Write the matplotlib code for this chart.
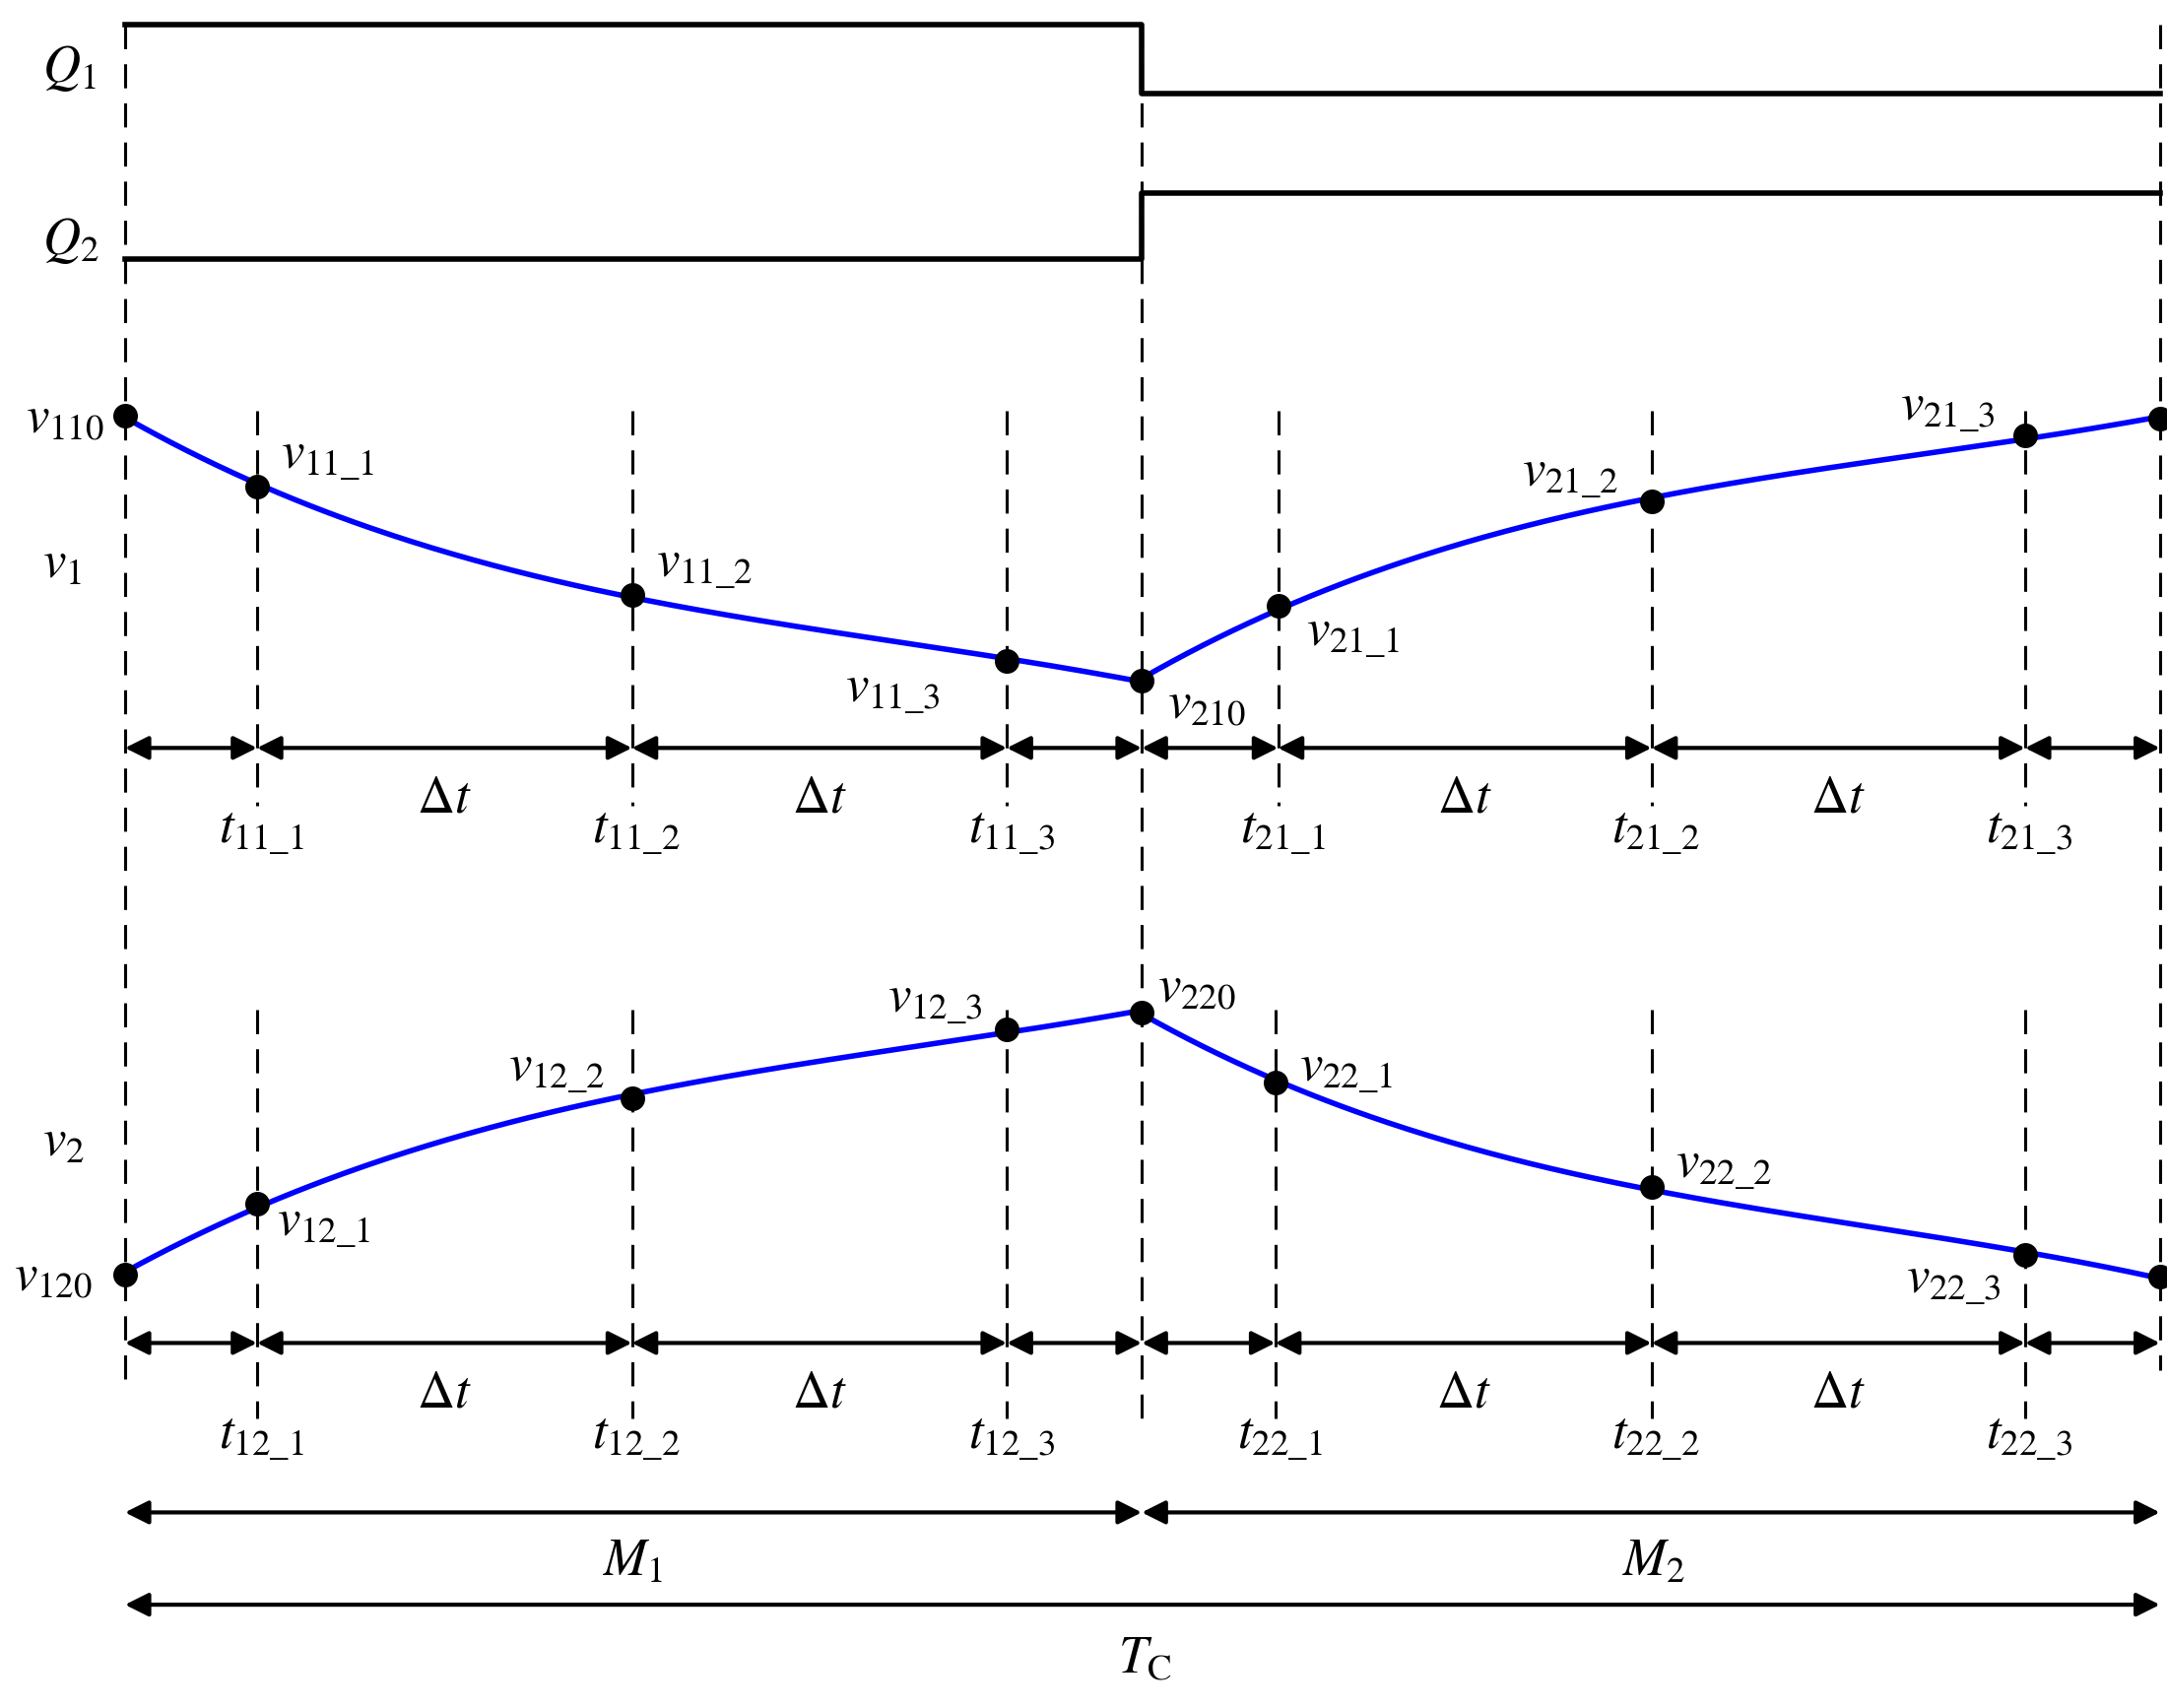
import numpy as np
import matplotlib.pyplot as plt

plt.rcParams['mathtext.fontset'] = 'stix'
plt.rcParams['font.family'] = 'Liberation Serif'

# sample instants (pixel-space of the schematic) and node values
t_top = [88, 181, 445, 709, 804, 900, 1163, 1426, 1521]
v1 = [302, 353, 432, 480, 494, 440, 364, 316, 304]
t_bot = [88, 181, 445, 709, 804, 898, 1163, 1426, 1521]
v2 = [925, 874, 797, 747, 735, 786, 862, 911, 927]

v1_labels = [r'$v_{110}$', r'$v_{11\_1}$', r'$v_{11\_2}$', r'$v_{11\_3}$', r'$v_{210}$',
             r'$v_{21\_1}$', r'$v_{21\_2}$', r'$v_{21\_3}$', None]
v1_pos = [(18, 305), (198, 333), (462, 412), (595, 503), (822, 512),
          (920, 462), (1072, 346), (1338, 298), None]
v2_labels = [r'$v_{120}$', r'$v_{12\_1}$', r'$v_{12\_2}$', r'$v_{12\_3}$', r'$v_{220}$',
             r'$v_{22\_1}$', r'$v_{22\_2}$', r'$v_{22\_3}$', None]
v2_pos = [(10, 928), (195, 890), (358, 778), (625, 728), (815, 718),
          (915, 778), (1180, 848), (1342, 932), None]
t1_labels = [r'$t_{11\_1}$', r'$t_{11\_2}$', r'$t_{11\_3}$', r'$t_{21\_1}$', r'$t_{21\_2}$', r'$t_{21\_3}$']
t2_labels = [r'$t_{12\_1}$', r'$t_{12\_2}$', r'$t_{12\_3}$', r'$t_{22\_1}$', r'$t_{22\_2}$', r'$t_{22\_3}$']

fig = plt.figure(figsize=(22, 17.34), dpi=100)
ax = fig.add_axes([0, 0, 1, 1])
ax.set_xlim(0, 1526)
ax.set_ylim(1240, 0)
ax.axis('off')

K = 'black'
LW = 4
FS = 38

# gate signals
ax.plot([88, 804, 804, 1521], [18, 18, 68, 68], color=K, lw=LW)
ax.plot([88, 804, 804, 1521], [188, 188, 140, 140], color=K, lw=LW)
ax.text(30, 50, r'$Q_{\mathit{1}}$', fontsize=FS, va='center')
ax.text(30, 175, r'$Q_{\mathit{2}}$', fontsize=FS, va='center')

dash = dict(color=K, lw=2.2, dashes=(8, 5))
ax.plot([88, 88], [18, 1010], **dash)
ax.plot([804, 804], [18, 1030], **dash)
ax.plot([1521, 1521], [18, 995], **dash)
for x in t_top[1:4] + t_top[5:8]:
    ax.plot([x, x], [298, 585], **dash)
for x in t_bot[1:4] + t_bot[5:8]:
    ax.plot([x, x], [733, 1030], **dash)


def curve(ts, vs):
    for seg in (slice(0, 5), slice(4, 9)):
        tt, vv = np.array(ts[seg]), np.array(vs[seg])
        c = np.polyfit(tt, vv, 3)
        xs = np.linspace(tt[0], tt[-1], 200)
        ax.plot(xs, np.polyval(c, xs), color='#0000ff', lw=LW)
    ax.plot(ts, vs, 'o', color=K, ms=17, zorder=5)


curve(t_top, v1)
curve(t_bot, v2)
for lab, p in zip(v1_labels, v1_pos):
    if lab:
        ax.text(p[0], p[1], lab, fontsize=FS, va='center')
for lab, p in zip(v2_labels, v2_pos):
    if lab:
        ax.text(p[0], p[1], lab, fontsize=FS, va='center')
ax.text(30, 410, r'$v_1$', fontsize=FS, va='center')
ax.text(30, 830, r'$v_2$', fontsize=FS, va='center')


def arrow(x0, x1, y):
    ax.annotate('', xy=(x1, y), xytext=(x0, y),
                arrowprops=dict(arrowstyle='<|-|>', color=K, lw=3,
                                mutation_scale=36, shrinkA=0, shrinkB=0))


for y, ts, labs, ly in ((543, t_top, t1_labels, 605), (975, t_bot, t2_labels, 1045)):
    for a, b in zip(ts[:-1], ts[1:]):
        arrow(a, b, y)
    for a, b in ((ts[1], ts[2]), (ts[2], ts[3]), (ts[5], ts[6]), (ts[6], ts[7])):
        ax.text((a + b) / 2, y + 37, r'$\Delta t$', fontsize=FS, ha='center', va='center')
    for x, lab in zip(ts[1:4] + ts[5:8], labs):
        ax.text(x + 3, ly, lab, fontsize=FS, ha='center', va='center')

arrow(88, 804, 1098)
arrow(804, 1521, 1098)
arrow(88, 1521, 1165)
ax.text(446, 1135, r'$M_1$', fontsize=FS, ha='center', va='center')
ax.text(1165, 1135, r'$M_2$', fontsize=FS, ha='center', va='center')
ax.text(806, 1205, r'$T_{\mathrm{C}}$', fontsize=FS, ha='center', va='center')

fig.savefig('out.png', dpi=100)
